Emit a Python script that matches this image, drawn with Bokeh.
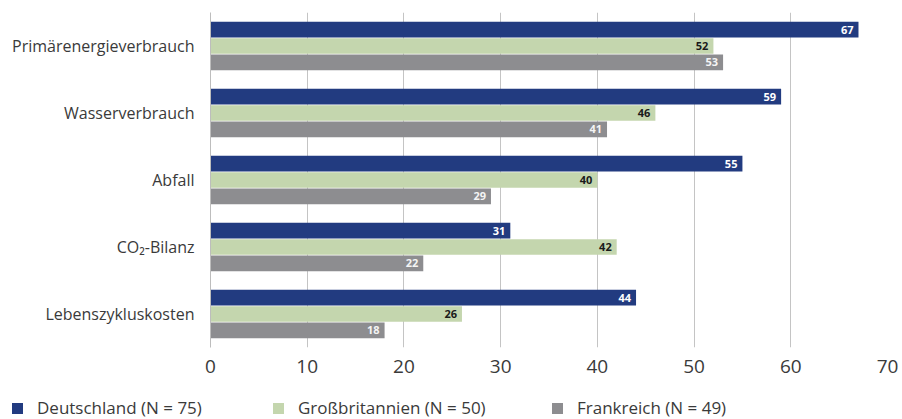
from bokeh.plotting import figure
from bokeh.layouts import column
from bokeh.models import ColumnDataSource, FactorRange, Range1d, FixedTicker, Div
from bokeh.transform import dodge
from bokeh.core.properties import value
from bokeh.embed import file_html
from bokeh.resources import INLINE

categories = ["Primärenergieverbrauch", "Wasserverbrauch", "Abfall", "CO₂-Bilanz", "Lebenszykluskosten"]
deutschland = [67, 59, 55, 31, 44]
grossbritannien = [52, 46, 40, 42, 26]
frankreich = [53, 41, 29, 22, 18]
series_names = ["Deutschland (N = 75)", "Großbritannien (N = 50)", "Frankreich (N = 49)"]
x_ticks = [0, 10, 20, 30, 40, 50, 60, 70]

colors = ["#223b80", "#c4d6ae", "#8d8d90"]
label_colors = ["#ffffff", "#1a1a1a", "#f4f4f4"]
FONT = "Open Sans"
TEXT_COLOR = "#3a3a3a"

src = ColumnDataSource(dict(
    cat=categories,
    d=deutschland, g=grossbritannien, f=frankreich,
    dl=[str(v) for v in deutschland],
    gl=[str(v) for v in grossbritannien],
    fl=[str(v) for v in frankreich],
))

p = figure(width=902, height=384, output_backend="svg", toolbar_location=None,
           y_range=FactorRange(*list(reversed(categories))),
           x_range=Range1d(0, 70),
           min_border_left=210, min_border_right=15, min_border_top=12, min_border_bottom=37)
p.outline_line_color = None
p.background_fill_color = "white"

offsets = [0.245, 0.0, -0.245]
for key, lab, off, col, lcol in zip(["d", "g", "f"], ["dl", "gl", "fl"], offsets, colors, label_colors):
    p.hbar(y=dodge("cat", off, range=p.y_range), right=key, left=0, height=0.235,
           source=src, fill_color=col, line_color=None)
    p.text(x=key, y=dodge("cat", off, range=p.y_range), text=lab, source=src,
           text_align="right", text_baseline="middle", x_offset=-5,
           text_font=value(FONT), text_font_style="bold", text_font_size="11px",
           text_color=lcol)

p.xgrid.ticker = FixedTicker(ticks=x_ticks)
p.xgrid.grid_line_color = "#c4c4c4"
p.xgrid.grid_line_width = 1
p.ygrid.grid_line_color = None

p.xaxis.ticker = FixedTicker(ticks=x_ticks)
p.xaxis.axis_line_color = None
p.xaxis.major_tick_line_color = None
p.xaxis.minor_tick_line_color = None
p.xaxis.major_label_text_font = FONT
p.xaxis.major_label_text_font_size = "19px"
p.xaxis.major_label_text_color = TEXT_COLOR
p.xaxis.major_label_standoff = 6

p.yaxis.axis_line_color = "#bdbdbd"
p.yaxis.axis_line_width = 1
p.yaxis.major_tick_line_color = None
p.yaxis.minor_tick_line_color = None
p.yaxis.major_label_text_font = FONT
p.yaxis.major_label_text_font_size = "16px"
p.yaxis.major_label_text_color = TEXT_COLOR
p.yaxis.major_label_standoff = 10

# legend strip built from the series names and colours
legend_x = [12, 273, 552]
items = []
for name, col, lx in zip(series_names, colors, legend_x):
    items.append(
        f'<div style="position:absolute;left:{lx}px;top:12px;height:24px;display:flex;align-items:center;">'
        f'<span style="display:inline-block;width:11px;height:11px;background:{col};margin-right:14px;"></span>'
        f'<span style="font-family:\'Open Sans\';font-size:17px;color:{TEXT_COLOR};white-space:nowrap;line-height:24px;">{name}</span>'
        f'</div>'
    )
legend_html = f'<div style="position:relative;width:902px;height:35px;">{"".join(items)}</div>'
legend_div = Div(text=legend_html, width=902, height=35, margin=0)

layout = column(p, legend_div, spacing=0)
open("out.html", "w").write(file_html(layout, INLINE))
